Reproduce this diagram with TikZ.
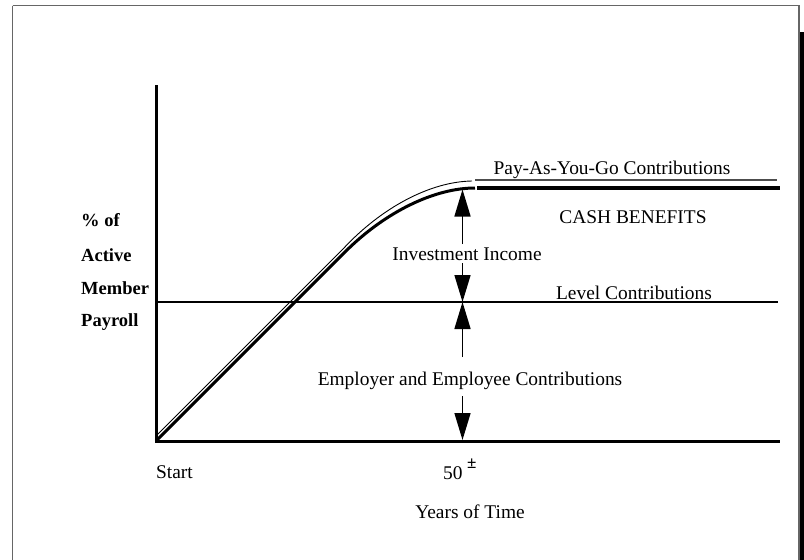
\documentclass[tikz,border=0pt]{standalone}
\usepackage{fontspec}
\setmainfont{Liberation Serif}
\usetikzlibrary{arrows.meta,calc}
\begin{document}
\begin{tikzpicture}[x=1pt,y=-1pt,
  lbl/.style={inner sep=0pt,font=\fontsize{19.4}{22}\selectfont},
  blbl/.style={inner sep=0pt,anchor=west,font=\fontsize{18.5}{22}\selectfont\bfseries},
  axis/.style={line width=3pt},
  thin/.style={line width=1.3pt},
  hair/.style={line width=0.9pt},
  bigarrow/.style={line width=1.5pt,-{Triangle[length=27pt,width=16pt]}}]
\useasboundingbox (0,0) rectangle (804,560);
% frame and shadow
\draw[line width=1.5pt,draw=black!60] (12.5,5.5) -- (799,5.5) -- (799,570) (12.5,5.5) -- (12.5,570);
\fill[black] (800,32) rectangle (804,560);
% axes
\coordinate (O) at (156,441);
\coordinate (Ytop) at (156,85);
\coordinate (Xend) at (780,441);
\draw[axis] (Ytop) -- (O.center) -- (Xend);
% level contributions line
\coordinate (L0) at (156,302);
\coordinate (L1) at (778,302);
\draw[thin] (L0) -- (L1);
% thick curve and line
\coordinate (C0) at (156,441);
\coordinate (C1) at (345,252);
\coordinate (Cc) at (409,188);
\coordinate (C2) at (475,188);
\coordinate (P0) at (477,188);
\coordinate (P1) at (780,188);
\draw[axis,line width=3pt] (C0) -- (C1) .. controls ($(C1)!0.62!(Cc)$) and ($(C2)!0.62!(Cc)$) .. (C2);
\draw[line width=4pt] (P0) -- (P1);
% thin curve and line
\coordinate (T0) at (156,436);
\coordinate (T1) at (343,249);
\coordinate (Tc) at (405,182);
\coordinate (T2) at (472,181);
\coordinate (Q0) at (475,180);
\coordinate (Q1) at (777,180);
\draw[hair] (T0) -- (T1) .. controls ($(T1)!0.62!(Tc)$) and ($(T2)!0.62!(Tc)$) .. (T2);
\draw[line width=1.5pt,draw=black!70] (Q0) -- (Q1);
% labels
\node[lbl] (payg) at (612,170) {Pay-As-You-Go Contributions};
\node[lbl] (cash) at (633,217) {CASH BENEFITS};
\node[lbl] (inv) at (467,254) {Investment Income};
\node[lbl] (lev) at (634,293) {Level Contributions};
\node[lbl] (emp) at (470,381) {Employer and Employee Contributions};
\node[lbl,anchor=west] (start) at (156,472) {Start};
\node[lbl,anchor=west] (fifty) at (443,473) {50};
\node[lbl,anchor=west] (pm) at (467,464) {\fontsize{17}{18}\selectfont\bfseries ±};
\node[lbl] (years) at (470,512) {Years of Time};
\node[blbl] (l1) at (81,220) {\% of};
\node[blbl] (l2) at (81,255) {Active};
\node[blbl] (l3) at (81,288) {Member};
\node[blbl] (l4) at (81,322) {Payroll};
% arrows
\coordinate (a1s) at (462.5,244);
\coordinate (a1e) at (462.5,189.5);
\coordinate (a2s) at (462.5,263);
\coordinate (a2e) at (462.5,302);
\coordinate (a3s) at (462.5,357);
\coordinate (a3e) at (462.5,302);
\coordinate (a4s) at (462.5,396);
\coordinate (a4e) at (462.5,440);
\draw[bigarrow] (a1s) -- (a1e);
\draw[bigarrow] (a2s) -- (a2e);
\draw[bigarrow] (a3s) -- (a3e);
\draw[bigarrow] (a4s) -- (a4e);
\end{tikzpicture}
\end{document}
